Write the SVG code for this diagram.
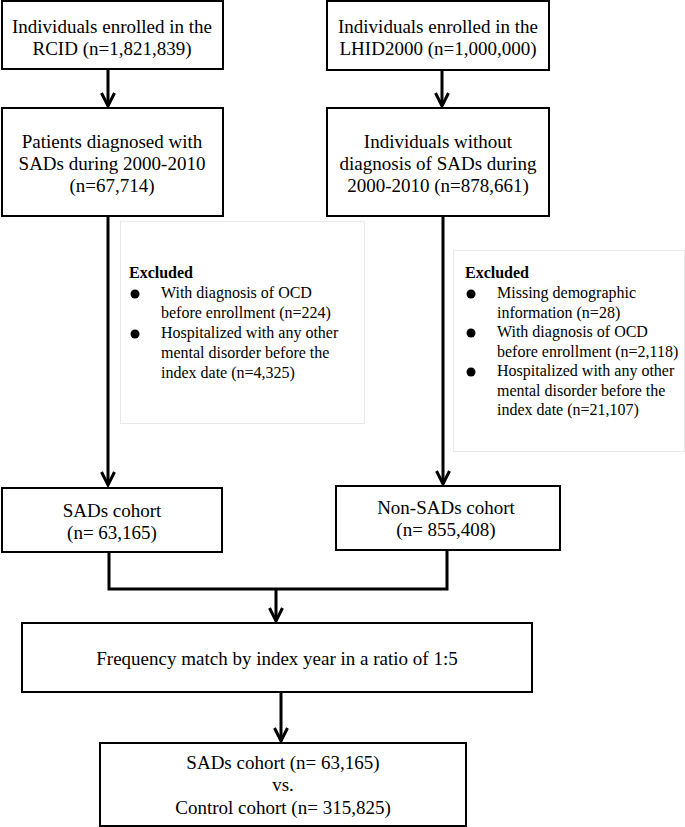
<svg xmlns="http://www.w3.org/2000/svg" width="685" height="827" viewBox="0 0 685 827">
<defs>
<marker id="arr" markerUnits="userSpaceOnUse" markerWidth="20" markerHeight="20" viewBox="-16 -10 20 20" refX="0" refY="0" orient="auto">
<path d="M-13,-6.5 L0,0 L-13,6.5" fill="none" stroke="#000" stroke-width="3"/>
</marker>
<style>
.box{fill:#fff;stroke:#000;stroke-width:2}
.exbox{fill:#fff;stroke:#e9e9e9;stroke-width:1}
.t{font-family:"Liberation Serif","Times New Roman",serif;font-size:19px;fill:#000;text-anchor:middle}
.s{font-family:"Liberation Serif","Times New Roman",serif;font-size:16px;fill:#000}
.b{font-weight:bold}
.con{fill:none;stroke:#000;stroke-width:3}
</style>
</defs>
<rect width="685" height="827" fill="#fff"/>
<g id="connectors">
<line class="con" x1="108" y1="69" x2="108" y2="106" marker-end="url(#arr)"/>
<line class="con" x1="442" y1="70" x2="442" y2="106" marker-end="url(#arr)"/>
<line class="con" x1="108" y1="216" x2="108" y2="485" marker-end="url(#arr)"/>
<line class="con" x1="443" y1="216" x2="443" y2="484" marker-end="url(#arr)"/>
<path class="con" d="M109,552 V589 H447 V550"/>
<line class="con" x1="276" y1="589" x2="276" y2="621" marker-end="url(#arr)"/>
<line class="con" x1="281" y1="692" x2="281" y2="741" marker-end="url(#arr)"/>
</g>
<g id="n1">
<rect class="box" x="2" y="1" width="221" height="68"/>
<text class="t" x="112" y="33">Individuals enrolled in the</text>
<text class="t" x="112" y="55">RCID (n=1,821,839)</text>
</g>
<g id="n2">
<rect class="box" x="327" y="1" width="222" height="69"/>
<text class="t" x="438" y="33">Individuals enrolled in the</text>
<text class="t" x="438" y="55">LHID2000 (n=1,000,000)</text>
</g>
<g id="n3">
<rect class="box" x="2" y="108" width="221" height="108"/>
<text class="t" x="112" y="148">Patients diagnosed with</text>
<text class="t" x="112" y="170">SADs during 2000-2010</text>
<text class="t" x="112" y="192">(n=67,714)</text>
</g>
<g id="n4">
<rect class="box" x="327" y="108" width="222" height="108"/>
<text class="t" x="438" y="148">Individuals without</text>
<text class="t" x="438" y="170">diagnosis of SADs during</text>
<text class="t" x="438" y="192">2000-2010 (n=878,661)</text>
</g>
<g id="ex1">
<rect class="exbox" x="120.5" y="221.5" width="244" height="202"/>
<text class="s b" x="129" y="278">Excluded</text>
<circle cx="135" cy="294" r="4.5"/>
<circle cx="135" cy="334" r="4.5"/>
<text class="s" x="161" y="298">With diagnosis of OCD</text>
<text class="s" x="161" y="318">before enrollment (n=224)</text>
<text class="s" x="161" y="338">Hospitalized with any other</text>
<text class="s" x="161" y="358">mental disorder before the</text>
<text class="s" x="161" y="378">index date (n=4,325)</text>
</g>
<g id="ex2">
<rect class="exbox" x="453.5" y="250.5" width="231" height="201"/>
<text class="s b" x="465" y="278">Excluded</text>
<circle cx="471" cy="294" r="4.5"/>
<circle cx="471" cy="333" r="4.5"/>
<circle cx="471" cy="372" r="4.5"/>
<text class="s" x="497" y="298">Missing demographic</text>
<text class="s" x="497" y="318">information (n=28)</text>
<text class="s" x="497" y="337">With diagnosis of OCD</text>
<text class="s" x="497" y="357">before enrollment (n=2,118)</text>
<text class="s" x="497" y="376">Hospitalized with any other</text>
<text class="s" x="497" y="396">mental disorder before the</text>
<text class="s" x="497" y="415">index date (n=21,107)</text>
</g>
<g id="n5">
<rect class="box" x="2" y="488" width="220" height="64"/>
<text class="t" x="112" y="517">SADs cohort</text>
<text class="t" x="112" y="539">(n= 63,165)</text>
</g>
<g id="n6">
<rect class="box" x="336" y="486" width="224" height="64"/>
<text class="t" x="446" y="514">Non-SADs cohort</text>
<text class="t" x="446" y="536">(n= 855,408)</text>
</g>
<g id="n7">
<rect class="box" x="22" y="623" width="510" height="69"/>
<text class="t" x="277" y="665">Frequency match by index year in a ratio of 1:5</text>
</g>
<g id="n8">
<rect class="box" x="100" y="743" width="366" height="83"/>
<text class="t" x="283" y="769">SADs cohort (n= 63,165)</text>
<text class="t" x="283" y="791">vs.</text>
<text class="t" x="283" y="814">Control cohort (n= 315,825)</text>
</g>
</svg>
